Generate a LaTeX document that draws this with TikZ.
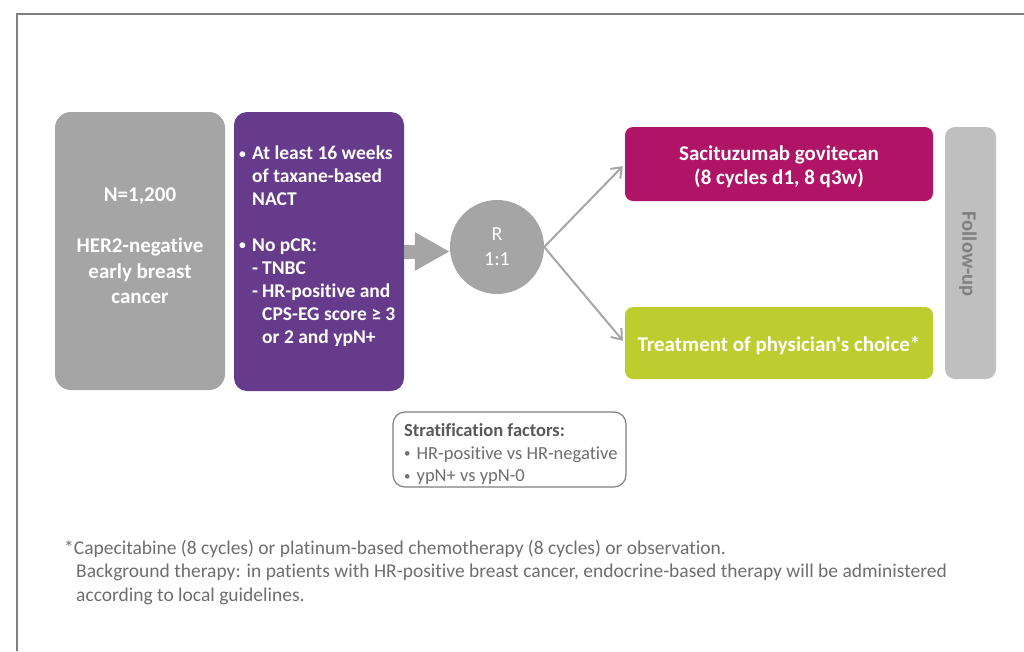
\documentclass[tikz,border=0pt]{standalone}
\usepackage{fontspec}
\usepackage{graphicx}
\setmainfont{Carlito}[Ligatures={TeXOff,NoCommon}]
\usetikzlibrary{arrows.meta}
\definecolor{boxgray}{HTML}{A5A5A5}
\definecolor{purp}{HTML}{673B8C}
\definecolor{magen}{HTML}{B01466}
\definecolor{lime}{HTML}{BDCD30}
\definecolor{follow}{HTML}{BFBFBF}
\definecolor{followtxt}{HTML}{7F7F7F}
\definecolor{frameline}{HTML}{808080}
\definecolor{darktxt}{HTML}{595959}
\definecolor{midtxt}{HTML}{6E6E6E}
\definecolor{conn}{HTML}{A6A6A6}
\newcommand{\smbul}{\raisebox{1.5pt}{\scalebox{0.7}{•}}}
\tikzset{
  boxnode/.style={inner sep=0pt, draw=none, align=center, text=white},
  whitebold/.style={font=\fontsize{21}{24.5}\selectfont\bfseries},
  connline/.style={draw=conn, line width=2pt, -{Straight Barb[length=9pt,width=14pt,line width=2pt]}, shorten >=3pt},
  bigarrow/.style={draw=boxgray, line width=14pt, -{Triangle[length=35pt,width=36pt]}},
}
\begin{document}
\begin{tikzpicture}[x=1pt,y=-1pt]
\useasboundingbox (0,0) rectangle (1024,651);
\fill[white] (0,0) rectangle (1024,651);
% frame
\coordinate (fbl) at (17,651);
\coordinate (ftl) at (17,14);
\coordinate (ftr) at (1024,14);
\draw[frameline, line width=1.5pt] (fbl) -- (ftl) -- (ftr);

% population box
\node[boxnode, fill=boxgray, rounded corners=16pt, minimum width=170pt, minimum height=278pt] (pop) at (140,251) {};
\node[boxnode, whitebold, font=\fontsize{21}{25.5}\selectfont\bfseries] (poptext) at (140,246) {N=1,200\\[25.5pt]HER2-negative\\early breast\\cancer};

% eligibility box
\node[boxnode, fill=purp, rounded corners=13pt, minimum width=170pt, minimum height=279pt] (elig) at (319,251.5) {};
\node[anchor=north west, inner sep=0pt, align=left, text=white, font=\fontsize{19.5}{23}\selectfont\bfseries] (eligtext) at (239,146) {%
\makebox[13pt][l]{\smbul}At least 16 weeks\\
\hspace*{13pt}of taxane-based\\
\hspace*{13pt}NACT\\[22.5pt]
\makebox[13pt][l]{\smbul}No pCR:\\
\hspace*{13pt}\makebox[10pt][l]{-}TNBC\\
\hspace*{13pt}\makebox[10pt][l]{-}HR-positive and\\
\hspace*{23pt}CPS-EG score ≥ 3\\
\hspace*{23pt}or 2 and ypN+};

% randomisation circle
\node[circle, fill=boxgray, minimum size=94pt, inner sep=0pt, text=white, align=center, font=\fontsize{20}{25}\selectfont] (rand) at (497,247) {R\\1:1};

% arms
\node[boxnode, whitebold, fill=magen, rounded corners=8pt, minimum width=308pt, minimum height=74pt] (sg) at (779,164) {};
\node[boxnode, whitebold] (sgtext) at (779,167) {Sacituzumab govitecan\\(8 cycles d1, 8 q3w)};
\node[boxnode, whitebold, fill=lime, rounded corners=8pt, minimum width=308pt, minimum height=72pt] (tpc) at (779,343) {};
\node[boxnode, whitebold] (tpctext) at (779,346) {Treatment of physician's choice*};

% follow-up
\node[boxnode, fill=follow, rounded corners=10pt, minimum width=51pt, minimum height=252pt] (fu) at (970.5,253) {};
\node[rotate=-90, text=followtxt, font=\fontsize{20.5}{24}\selectfont\bfseries, inner sep=0pt] (futext) at (968,254) {Follow-up};

% connectors
\draw[bigarrow] (elig.east) -- (elig.east -| rand.west);
\draw[connline] (rand.east) -- (sg.west);
\draw[connline] (rand.east) -- (tpc.west);

% stratification
\node[draw=followtxt, line width=1.2pt, rounded corners=12pt, minimum width=233pt, minimum height=75pt] (strat) at (509.5,449.5) {};
\node[anchor=west, inner sep=0pt, align=left, text=midtxt, font=\fontsize{18.5}{22.5}\selectfont] (strattext) at (404,454) {{\color{darktxt}\bfseries Stratification factors:}\\
\smbul\hspace{6pt}HR-positive vs HR-negative\\
\smbul\hspace{6pt}ypN+ vs ypN-0};

% footnote
\node[anchor=north west, inner sep=0pt, align=left, text=midtxt, font=\fontsize{19.5}{23.5}\selectfont] (foot) at (64,540) {*Capecitabine (8 cycles) or platinum-based chemotherapy (8 cycles) or observation.\\
\hspace*{12pt}Background therapy: in patients with HR-positive breast cancer, endocrine-based therapy will be administered\\
\hspace*{12pt}according to local guidelines.};
\end{tikzpicture}
\end{document}
